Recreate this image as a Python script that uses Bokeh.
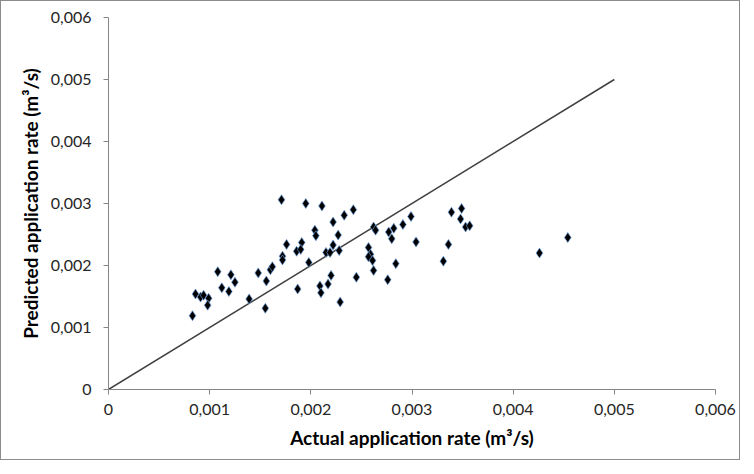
from bokeh.plotting import figure
from bokeh.models import FixedTicker, CustomJSTickFormatter, Range1d
from bokeh.embed import file_html
from bokeh.resources import INLINE

actual = [0.00171, 0.00176, 0.00172, 0.00172, 0.00108, 0.00121, 0.00112, 0.00125,
          0.00119, 0.00086, 0.00091, 0.00094, 0.00099, 0.00098, 0.00083, 0.00148,
          0.00139, 0.00156, 0.00160, 0.00162, 0.00155, 0.00195, 0.00211, 0.00222,
          0.00233, 0.00242, 0.00204, 0.00205, 0.00227, 0.00191, 0.00186, 0.00190,
          0.00222, 0.00215, 0.00219, 0.00228, 0.00198, 0.00187, 0.00209, 0.00217,
          0.00220, 0.00210, 0.00229, 0.00245, 0.00262, 0.00264, 0.00257, 0.00259,
          0.00257, 0.00261, 0.00262, 0.00276, 0.00284, 0.00277, 0.00282, 0.00280,
          0.00291, 0.00299, 0.00304, 0.00339, 0.00349, 0.00348, 0.00353, 0.00357,
          0.00336, 0.00331, 0.00454, 0.00426]
predicted = [0.00306, 0.00234, 0.00215, 0.00209, 0.00190, 0.00185, 0.00164, 0.00173,
             0.00158, 0.00154, 0.00149, 0.00152, 0.00147, 0.00136, 0.00119, 0.00188,
             0.00146, 0.00175, 0.00193, 0.00198, 0.00131, 0.00300, 0.00296, 0.00270,
             0.00281, 0.00290, 0.00257, 0.00248, 0.00249, 0.00237, 0.00223, 0.00226,
             0.00233, 0.00221, 0.00221, 0.00224, 0.00205, 0.00162, 0.00167, 0.00170,
             0.00184, 0.00156, 0.00141, 0.00181, 0.00262, 0.00257, 0.00229, 0.00218,
             0.00214, 0.00208, 0.00192, 0.00177, 0.00203, 0.00254, 0.00260, 0.00243,
             0.00266, 0.00279, 0.00238, 0.00286, 0.00292, 0.00275, 0.00262, 0.00264,
             0.00234, 0.00207, 0.00245, 0.00220]
line_x = [0.0, 0.005]
line_y = [0.0, 0.005]
ticks = [0.0, 0.001, 0.002, 0.003, 0.004, 0.005, 0.006]

p = figure(width=740, height=460, output_backend="svg", toolbar_location=None,
           x_range=Range1d(0, 0.006), y_range=Range1d(0, 0.006),
           min_border_left=107, min_border_right=26, min_border_top=16, min_border_bottom=72,
           styles={"border": "1px solid #8c8c8c"})
p.outline_line_color = None
p.xgrid.visible = False
p.ygrid.visible = False

p.line(line_x, line_y, line_color="#404040", line_width=1.5)
p.scatter(actual, predicted, marker="diamond", size=10, fill_color="black",
          line_color="#6a9bd8", line_width=1, line_alpha=0.7)

fmt = CustomJSTickFormatter(code="""
if (Math.abs(tick) < 1e-9) return "0";
return tick.toFixed(3).replace(".", ",");
""")
for ax in (p.xaxis[0], p.yaxis[0]):
    ax.ticker = FixedTicker(ticks=ticks)
    ax.formatter = fmt
    ax.axis_line_color = "#868686"
    ax.major_tick_line_color = "#868686"
    ax.major_tick_out = 5
    ax.major_tick_in = 0
    ax.minor_tick_line_color = None
    ax.major_label_text_font = "Lato"
    ax.major_label_text_font_size = "16px"
    ax.major_label_text_color = "#262626"
    ax.axis_label_text_font = "Lato"
    ax.axis_label_text_font_size = "19px"
    ax.axis_label_text_font_style = "bold"
    ax.axis_label_text_color = "#000000"

p.xaxis.axis_label = "Actual application rate (m\u00b3/s)"
p.yaxis.axis_label = "Predicted application rate (m\u00b3/s)"
p.xaxis.major_label_standoff = 9
p.xaxis.axis_label_standoff = 8
p.yaxis.major_label_standoff = 12
p.yaxis.axis_label_standoff = 6

open("out.html", "w").write(file_html(p, INLINE))
